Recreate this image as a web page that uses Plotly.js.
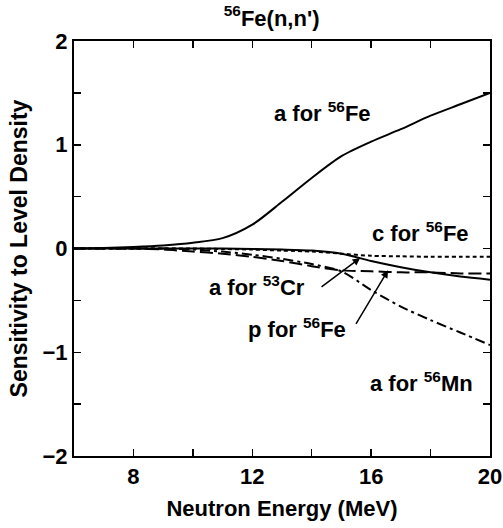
<!DOCTYPE html>
<html>
<head>
<meta charset="utf-8">
<script src="https://cdn.plot.ly/plotly-3.0.1.min.js"></script>
<style>html,body{margin:0;padding:0;background:#fff;}#chart{width:503px;height:528px;}</style>
</head>
<body>
<div id="chart"></div>
<script>
// Neutron energy grid (MeV)
const energy = [6, 7, 8, 9, 10, 11, 12, 13, 14, 15, 16, 17, 18, 19, 20];
// Sensitivities
const aFe56 = [0, 0.005, 0.015, 0.03, 0.055, 0.1, 0.23, 0.45, 0.68, 0.89, 1.03, 1.15, 1.28, 1.39, 1.50];
const cFe56 = [0, 0, 0, 0, 0, -0.005, -0.01, -0.02, -0.03, -0.05, -0.07, -0.075, -0.08, -0.08, -0.08];
const aCr53 = [0, 0, 0, 0, 0, 0, -0.005, -0.01, -0.02, -0.05, -0.12, -0.18, -0.23, -0.27, -0.30];
const pFe56 = [0, 0, 0, -0.01, -0.03, -0.05, -0.08, -0.12, -0.17, -0.21, -0.22, -0.23, -0.23, -0.24, -0.24];
const aMn56 = [0, 0, 0, 0, -0.01, -0.03, -0.06, -0.10, -0.15, -0.22, -0.40, -0.56, -0.69, -0.81, -0.93];

const xTicks = [8, 12, 16, 20];
const yTicks = [-2, -1, 0, 1, 2];

const F = 'Liberation Sans, Arial, Helvetica, sans-serif';
function tr(y, dash) {
  return {x: energy, y: y, mode: 'lines', type: 'scatter',
    line: {color: '#000', width: 2, dash: dash, shape: 'spline', smoothing: 0.8}, hoverinfo: 'skip'};
}
const data = [
  tr(aFe56, 'solid'),
  tr(cFe56, '4px,3px'),
  tr(aCr53, 'solid'),
  tr(pFe56, '13px,5px'),
  tr(aMn56, '10px,4px,3px,4px')
];

const axisCommon = {
  showgrid: false, zeroline: false, showline: true, linecolor: '#000', linewidth: 2,
  mirror: 'allticks', ticks: 'inside', ticklen: 7, tickwidth: 1.5, tickcolor: '#000',
  tickfont: {family: F, size: 22, color: '#000', weight: 'bold'}
};

const ann = (x, y, t) => ({x: x, y: y, xref: 'x', yref: 'y', text: t, showarrow: false,
  font: {family: F, size: 22, color: '#000', weight: 'bold'}, xanchor: 'center', yanchor: 'middle'});
const arrow = (x, y, ax, ay) => ({x: x, y: y, xref: 'x', yref: 'y', axref: 'x', ayref: 'y',
  ax: ax, ay: ay, text: '', showarrow: true, arrowhead: 2, arrowsize: 1, arrowwidth: 1.5,
  arrowcolor: '#000', standoff: 0});

const layout = {
  width: 503, height: 528,
  margin: {l: 74, r: 13, t: 41, b: 72},
  paper_bgcolor: '#fff', plot_bgcolor: '#fff',
  showlegend: false,
  title: {text: '<sup>56</sup>Fe(n,n\')', font: {family: F, size: 22, color: '#000', weight: 'bold'},
    x: 0.54, xanchor: 'center', y: 0.966, yanchor: 'middle'},
  xaxis: Object.assign({}, axisCommon, {
    range: [6, 20], tickvals: xTicks, ticktext: xTicks.map(String),
    minor: {dtick: 2, tick0: 0, ticks: 'inside', ticklen: 7, tickwidth: 1.5, tickcolor: '#000'},
    title: {text: 'Neutron Energy (MeV)', font: {family: F, size: 22, color: '#000', weight: 'bold'}, standoff: 12}
  }),
  yaxis: Object.assign({}, axisCommon, {
    range: [-2, 2], tickvals: yTicks, ticktext: yTicks.map(v => v < 0 ? '\u2212' + Math.abs(v) : String(v)),
    minor: {dtick: 0.5, tick0: 0, ticks: 'inside', ticklen: 7, tickwidth: 1.5, tickcolor: '#000'},
    title: {text: 'Sensitivity to Level Density', font: {family: F, size: 23, color: '#000', weight: 'bold'}, standoff: 8}
  }),
  annotations: [
    ann(14.35, 1.32, 'a for <sup>56</sup>Fe'),
    ann(17.65, 0.16, 'c for <sup>56</sup>Fe'),
    ann(12.16, -0.36, 'a for <sup>53</sup>Cr'),
    ann(13.5, -0.77, 'p for <sup>56</sup>Fe'),
    ann(17.7, -1.29, 'a for <sup>56</sup>Mn'),
    arrow(15.63, -0.092, 14.28, -0.38),
    arrow(16.57, -0.21, 15.46, -0.74)
  ]
};

Plotly.newPlot('chart', data, layout, {staticPlot: true, displayModeBar: false});
</script>
</body>
</html>
